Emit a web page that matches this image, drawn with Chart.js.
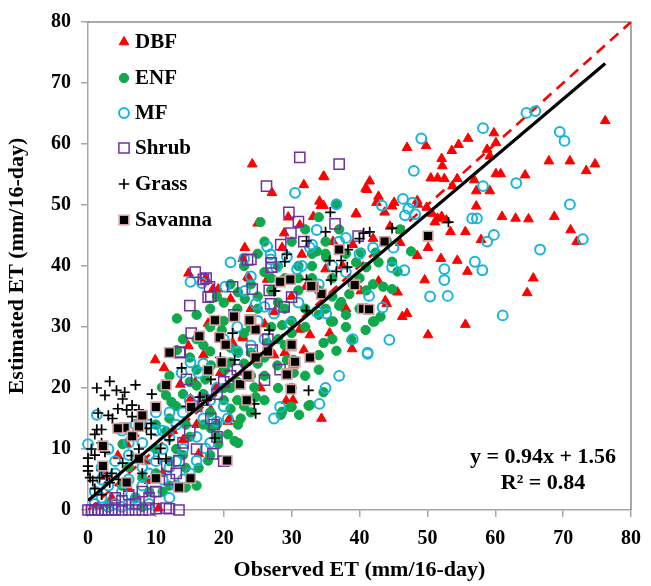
<!DOCTYPE html>
<html><head><meta charset="utf-8">
<script src="https://cdn.jsdelivr.net/npm/chart.js@4.4.1/dist/chart.umd.min.js"></script>
<style>html,body{margin:0;padding:0;background:#fff}#wrap{width:651px;height:586px;position:relative}</style>
</head><body><div id="wrap"><canvas id="c" width="651" height="586"></canvas></div>
<script>
// ---- data (observed ET, estimated ET), mm/16-day ----
const dbf = [[76.2,63.8],[47.0,59.4],[49.8,59.7],[52.1,57.6],[53.6,58.9],[54.6,59.9],[56.0,60.9],[59.8,61.8],[52.2,56.4],[58.8,59.1],[60.1,60.2],[59.2,58.0],[34.8,54.6],[41.5,53.9],[41.1,52.5],[40.9,52.7],[50.5,54.4],[51.5,54.4],[52.5,54.3],[54.4,54.3],[53.7,53.1],[56.9,54.1],[60.1,55.1],[60.8,55.1],[64.4,54.9],[67.9,57.2],[71.0,57.2],[73.4,55.6],[74.7,56.7],[57.2,52.3],[59.2,52.3],[42.8,51.4],[45.1,50.4],[44.8,49.8],[48.5,50.7],[39.5,48.5],[34.3,49.9],[48.6,50.1],[49.9,49.6],[50.7,48.6],[51.5,47.8],[52.1,48.1],[57.2,49.8],[61.0,48.1],[63.0,47.8],[64.9,47.7],[68.7,48.1],[51.1,47.2],[52.8,47.5],[53.4,45.6],[55.6,45.6],[71.1,45.9],[72.0,44.0],[57.9,44.3],[46.0,43.8],[50.1,43.0],[48.5,41.7],[52.0,41.2],[54.4,40.9],[55.9,39.1],[65.6,38.0],[64.7,35.6],[49.6,37.7],[42.8,37.5],[43.8,34.3],[43.7,48.8],[42.5,50.4],[45.6,35.7],[44.0,33.8],[46.3,31.7],[47.0,32.2],[55.6,30.4],[50.1,28.7],[34.4,15.0],[24.2,56.7],[27.1,52.0],[31.8,53.3],[34.7,54.7],[34.1,50.6],[34.7,49.9],[33.2,48.1],[31.2,46.7],[28.9,45.4],[23.1,43.0],[22.8,41.2],[14.8,38.8],[17.3,38.0],[23.7,38.0],[19.2,36.2],[31.5,41.9],[39.5,48.6],[36.1,44.0],[28.6,43.0],[18.4,36.2],[23.5,38.2],[26.4,37.8],[32.1,36.6],[40.2,35.9],[21.0,34.6],[22.8,28.2],[31.2,29.6],[35.6,29.0],[38.9,26.4],[29.0,25.8],[31.8,26.2],[9.9,24.6],[11.2,23.3],[14.8,26.9],[17.0,25.4],[17.7,30.6],[30.2,18.0],[25.4,20.0],[13.6,20.6],[7.8,15.6],[18.9,20.1],[20.9,15.0],[5.7,10.8],[9.0,4.8],[10.4,0.3],[1.5,0.7],[15.8,20.9],[18.1,16.4],[22.8,28.5],[29.2,17.9],[16.3,9.2],[15.1,18.2],[4.4,8.9],[20.6,14.5],[27.4,25.4],[32.7,28.7],[21.3,27.4],[12.5,13.0],[8.5,8.0],[6.0,3.5],[3.5,2.0],[11.0,6.0],[14.0,11.5],[24.0,33.0],[26.0,30.5],[37.5,40.0],[39.0,43.5],[35.0,39.5],[44.5,46.5],[42.0,44.5],[38.0,33.0],[30.0,35.0],[27.5,32.5],[19.5,22.5],[16.0,14.0],[2.5,5.5],[6.8,12.5],[25.0,47.0],[29.5,48.0]];
const enf = [[13.1,31.4],[10.9,20.1],[11.5,18.8],[12.3,17.7],[16.0,20.4],[17.3,21.4],[18.1,23.7],[20.2,23.0],[21.0,24.2],[19.7,29.5],[21.0,26.6],[22.1,25.8],[24.0,25.8],[26.4,27.4],[27.9,23.7],[29.3,24.6],[30.3,22.5],[28.6,16.1],[29.8,16.9],[31.1,15.6],[32.7,17.2],[34.7,19.3],[18.1,13.4],[20.6,12.4],[21.6,11.3],[22.1,11.0],[22.5,15.0],[22.1,14.0],[21.0,16.6],[14.4,6.9],[16.3,6.9],[17.7,8.1],[19.2,10.8],[14.4,14.0],[11.5,12.9],[8.0,5.3],[14.4,3.7],[5.1,10.8],[25.4,47.2],[13.1,26.2],[36.6,50.2],[47.6,42.4],[44.8,40.7],[45.6,39.1],[43.5,36.6],[44.8,36.2],[40.2,42.2],[42.4,42.2],[42.8,40.6],[39.5,40.6],[41.0,39.8],[38.5,35.4],[43.1,31.7],[42.2,30.9],[40.9,29.5],[38.8,27.9],[36.6,26.1],[34.0,25.4],[35.8,30.9],[34.7,27.4],[37.0,33.5],[36.1,30.9],[42.0,30.9],[35.1,41.4],[37.3,34.1],[28.6,30.3],[30.3,24.6],[22.1,35.7],[23.1,34.6],[32.5,17.1],[30.0,16.9],[28.4,15.6],[24.7,18.5],[24.5,20.1],[33.7,42.4],[16.0,28.0],[18.0,33.0],[20.0,31.0],[23.0,29.0],[25.0,33.0],[27.0,36.0],[29.0,38.0],[31.0,40.0],[33.0,42.0],[35.0,44.0],[37.0,46.0],[24.0,37.0],[26.0,39.0],[28.0,34.0],[30.0,31.0],[32.0,33.0],[34.0,36.0],[36.0,38.0],[38.0,42.0],[26.0,22.0],[28.0,20.0],[24.0,22.0],[20.0,18.0],[18.0,16.0],[16.0,17.0],[14.0,9.0],[12.0,8.0],[10.0,6.0],[9.0,3.0],[7.0,2.0],[6.0,7.0],[12.0,15.0],[15.0,25.0],[17.0,27.0],[19.0,35.0],[21.0,37.0],[23.0,40.0],[25.0,42.0],[27.0,30.0],[29.0,27.0],[31.0,36.0],[33.0,38.0],[35.0,33.0],[39.0,37.0],[40.0,33.0],[41.0,36.0],[44.0,44.0],[46.0,46.0],[15.0,12.0],[13.0,10.0],[17.0,19.0],[19.0,14.0],[23.0,17.0],[25.0,24.0],[22.0,21.0],[11.0,3.0],[8.0,0.5],[3.0,1.0],[5.0,4.0],[14.0,19.0],[16.0,23.0],[18.0,26.0],[20.0,20.0],[22.0,18.0],[24.0,16.0],[26.0,25.0],[28.0,28.0],[30.0,29.0],[32.0,30.0],[34.0,32.0],[36.0,35.0],[38.0,30.0],[25.0,35.0],[27.0,38.0],[29.0,33.0],[31.0,38.0],[33.0,40.0],[35.0,42.0],[22.0,33.0],[20.0,34.0],[18.0,30.0],[16.0,32.0],[14.0,28.0],[12.0,22.0],[10.0,14.0],[13.0,17.0],[15.0,21.0],[17.0,14.0],[19.0,12.0],[21.0,20.0],[23.0,24.0],[26.0,18.0],[30.0,20.0],[32.0,22.0],[34.0,23.0],[36.0,28.0],[38.0,32.0],[40.0,38.0],[42.0,37.0],[18.0,9.0],[16.0,4.0],[12.0,4.0],[10.0,10.0],[24.0,30.0],[28.0,40.0],[30.0,44.0],[26.0,44.0],[32.0,46.0],[34.0,48.0]];
const mf = [[64.6,65.1],[65.9,65.4],[58.2,62.6],[49.1,60.9],[69.5,62.0],[70.2,60.5],[48.0,55.6],[58.2,53.1],[63.1,53.6],[46.4,51.0],[47.8,50.4],[47.2,49.4],[43.3,49.9],[46.7,48.3],[48.2,48.5],[56.6,47.8],[57.3,47.8],[71.0,50.1],[59.8,45.1],[58.8,44.0],[72.9,44.4],[66.6,42.7],[57.0,40.7],[58.1,39.3],[52.5,39.5],[52.5,37.7],[50.4,35.0],[53.0,35.1],[44.8,39.8],[46.6,39.3],[41.4,35.1],[43.4,33.2],[61.1,31.9],[44.4,27.9],[41.2,25.6],[34.1,17.4],[15.1,37.4],[16.8,37.2],[30.5,52.0],[33.7,45.9],[32.7,43.0],[26.4,43.2],[26.9,41.9],[21.0,40.6],[24.0,38.3],[27.7,39.8],[29.3,41.5],[31.5,40.0],[20.2,36.6],[36.6,50.1],[38.0,44.6],[37.0,44.0],[33.0,43.5],[23.0,41.2],[26.9,41.1],[30.8,39.5],[23.1,35.9],[24.7,33.8],[26.0,33.3],[27.4,32.2],[33.7,32.5],[35.1,32.2],[41.2,25.8],[29.8,30.6],[28.3,16.9],[27.4,15.0],[0.0,10.8],[1.3,15.6],[16.3,22.5],[15.1,24.2],[13.8,22.5],[20.6,15.0],[19.0,14.5],[17.3,10.1],[16.0,8.1],[1.0,3.0],[2.0,2.0],[3.0,4.0],[4.0,1.0],[5.0,3.0],[6.0,5.0],[7.0,2.0],[8.0,4.0],[9.0,6.0],[10.0,8.0],[11.0,10.0],[12.0,12.0],[13.0,14.0],[14.0,16.0],[2.0,7.0],[4.0,6.0],[6.0,9.0],[8.0,11.0],[10.0,13.0],[12.0,7.0],[14.0,10.0],[15.0,6.0],[3.0,0.5],[5.0,0.5],[7.0,1.0],[9.0,1.0],[11.0,5.0],[13.0,4.0],[18.0,18.0],[19.0,20.0],[22.0,26.0],[24.0,27.0],[26.0,28.0],[31.0,34.0],[34.0,37.0],[36.0,40.0],[38.0,39.0],[40.0,42.0],[42.0,43.0],[45.0,43.0],[22.0,30.0],[25.0,31.0],[17.0,24.0],[20.0,28.0],[37.0,22.0],[35.0,20.0],[39.0,28.0],[12.0,16.0],[10.0,16.0],[9.0,14.0],[4.0,8.0],[6.0,11.0],[8.0,7.0],[10.0,3.0],[12.0,2.0],[14.0,5.0],[3.0,10.0],[5.0,13.0],[7.0,14.0],[9.0,9.0],[11.0,13.0],[13.0,8.0],[2.0,5.0],[1.0,1.0],[6.0,1.0],[16.0,12.0],[18.0,11.0],[15.0,18.0],[17.0,15.0],[20.0,17.0]];
const shrub = [[31.2,57.8],[26.3,53.1],[29.6,48.8],[31.0,47.3],[29.9,45.4],[31.8,44.0],[28.4,43.5],[24.0,41.1],[27.0,39.8],[15.8,39.0],[17.0,37.8],[17.7,34.9],[37.0,56.7],[36.4,46.9],[39.8,44.9],[15.0,33.5],[15.2,29.0],[13.6,25.9],[17.4,38.0],[17.9,36.6],[18.1,35.0],[14.5,21.4],[13.5,25.8],[18.1,15.0],[18.6,14.0],[11.6,7.2],[13.4,8.1],[18.4,9.2],[11.5,0.3],[13.4,0.0],[21.3,36.6],[24.2,36.2],[26.7,36.0],[26.9,33.8],[28.9,33.3],[30.0,34.9],[24.2,26.2],[26.5,28.0],[28.3,23.0],[26.0,21.3],[21.5,32.0],[23.5,41.0],[27.0,40.5],[0.0,0.0],[0.5,0.0],[1.0,0.0],[1.5,0.0],[2.0,0.0],[2.5,0.0],[3.0,0.0],[3.5,0.0],[4.0,0.0],[5.0,0.0],[6.0,0.0],[7.0,0.0],[8.0,0.0],[9.0,0.0],[10.0,0.2],[12.0,0.2],[4.0,2.0],[5.0,1.5],[6.0,2.5],[7.0,1.0],[8.0,3.0],[9.0,2.0],[10.0,3.0],[12.0,5.0],[13.0,6.0],[14.0,11.0],[15.0,13.0],[16.0,17.0],[17.0,18.0],[19.0,19.0],[20.0,21.0],[21.0,22.0],[22.0,23.0],[16.0,10.0],[19.0,12.0],[20.0,8.0]];
const grass = [[1.3,20.0],[3.2,21.1],[2.5,18.8],[4.2,19.6],[5.4,19.3],[5.1,18.2],[1.5,15.9],[4.4,16.6],[5.7,16.4],[6.5,17.2],[7.5,16.4],[3.6,15.0],[6.5,15.3],[1.3,13.2],[2.0,13.2],[1.0,12.4],[9.4,19.0],[9.3,14.2],[8.6,13.4],[9.3,12.4],[10.7,10.1],[11.5,8.4],[10.4,8.4],[0.0,8.5],[0.0,7.2],[0.0,6.4],[0.3,5.3],[0.7,4.8],[1.7,5.3],[2.8,5.6],[3.2,4.5],[5.1,7.7],[6.4,8.9],[7.5,10.0],[13.8,23.3],[18.1,21.4],[16.5,18.5],[17.5,18.0],[18.7,11.8],[21.3,29.0],[21.6,24.6],[24.7,15.8],[24.5,17.4],[26.7,29.5],[27.6,35.9],[32.5,19.6],[32.2,32.7],[35.7,48.8],[35.0,45.6],[40.6,45.4],[41.5,45.6],[44.8,46.2],[53.1,47.2],[38.3,42.7],[37.3,40.9],[35.6,40.9],[36.6,39.1],[38.2,39.8],[35.8,37.7],[32.2,44.1],[40.0,44.5],[29.3,41.9],[29.0,40.7],[32.2,37.8],[27.4,35.9],[1.0,9.0],[2.0,6.5],[3.5,6.0],[4.5,5.0],[1.0,3.5],[2.0,2.5],[0.5,10.0],[2.5,9.5],[8.0,6.0],[12.0,11.5],[7.0,20.5],[2.0,11.0],[3.0,15.5],[19.5,25.0],[14.5,17.0]];
const savanna = [[12.0,25.8],[16.4,28.5],[18.7,31.1],[21.6,31.7],[24.0,31.2],[24.7,29.6],[19.4,28.3],[20.3,27.1],[19.7,24.2],[17.7,22.9],[23.7,21.9],[22.4,20.6],[23.4,18.0],[24.7,25.0],[29.9,26.9],[30.3,24.0],[29.3,22.4],[29.9,19.8],[32.7,25.0],[34.4,35.4],[33.2,36.6],[15.2,16.9],[10.0,16.9],[5.4,13.5],[7.5,13.7],[6.5,12.1],[4.4,13.4],[2.2,10.5],[2.2,7.2],[7.5,8.4],[5.7,4.5],[10.0,5.2],[15.1,5.2],[13.4,3.7],[20.5,8.1],[28.3,37.4],[29.8,37.8],[32.9,36.7],[50.1,44.9],[43.7,44.0],[37.0,42.7],[39.3,36.9],[40.5,33.0],[41.4,32.9],[21.5,31.7],[23.8,31.1],[30.0,27.1],[30.5,24.3],[23.5,22.1],[29.3,22.2],[8.0,15.5],[11.5,20.5],[26.5,26.0]];
const fitLine = [[0,1.56],[76.2,73.2]];      // y = 0.94x + 1.56
const oneToOne = [[0,0],[80,80]];
const axisTicks = [0,10,20,30,40,50,60,70,80];
const seriesNames = ['DBF','ENF','MF','Shrub','Grass','Savanna'];
const eqLines = ['y = 0.94x + 1.56','R\u00b2 = 0.84'];
const xTitle = 'Observed ET (mm/16-day)';
const yTitle = 'Estimated ET (mm/16-day)';

const FONT = '"Liberation Serif", "Times New Roman", serif';
const toXY = a => a.map(p => ({x:p[0], y:p[1]}));

const styles = {
  DBF:    {pointStyle:'triangle', radius:5.6, bg:'#ff0000', border:'#ff0000', bw:1},
  ENF:    {pointStyle:'circle',   radius:4.7, bg:'#10a84c', border:'#10a84c', bw:1},
  MF:     {pointStyle:'circle',   radius:4.9, bg:'rgba(0,0,0,0)', border:'#14b4dc', bw:2},
  Shrub:  {pointStyle:'rect',     radius:7.2, bg:'rgba(0,0,0,0)', border:'#7030a0', bw:1.5},
  Grass:  {pointStyle:'cross',    radius:5.2, bg:'#000', border:'#000', bw:1.7},
  Savanna:{pointStyle:'rect',     radius:6.8, bg:'#000', border:'#d4a0a0', bw:1.6}
};
const seriesData = {DBF:dbf, ENF:enf, MF:mf, Shrub:shrub, Grass:grass, Savanna:savanna};
const drawOrder = {Savanna:1, Grass:2, Shrub:3, MF:4, ENF:5, DBF:6};

const datasets = seriesNames.map(n => ({
  type:'scatter', label:n, data: toXY(seriesData[n]),
  pointStyle: styles[n].pointStyle, pointRadius: styles[n].radius,
  backgroundColor: styles[n].bg, borderColor: styles[n].border,
  pointBorderWidth: styles[n].bw, borderWidth: styles[n].bw,
  order: drawOrder[n], clip: false
}));
datasets.push({type:'line', label:'fit', data: toXY(fitLine), borderColor:'#000', borderWidth:3.2,
  pointRadius:0, order:0, fill:false});
datasets.push({type:'line', label:'1:1', data: toXY(oneToOne), borderColor:'#ff0000', borderWidth:2.6,
  borderDash:[11,7], pointRadius:0, order:7, fill:false});

const frame = {
  id:'frame',
  beforeDatasetsDraw(chart){
    const a = chart.chartArea, ctx = chart.ctx;
    ctx.save(); ctx.strokeStyle = '#8c8c8c'; ctx.lineWidth = 1.5;
    ctx.beginPath(); ctx.moveTo(a.left, a.top); ctx.lineTo(a.right, a.top); ctx.lineTo(a.right, a.bottom); ctx.stroke();
    ctx.restore();
  }
};

function drawMarker(ctx, s, x, y){
  ctx.save();
  ctx.fillStyle = s.bg; ctx.strokeStyle = s.border; ctx.lineWidth = s.bw;
  const r = s.radius;
  ctx.beginPath();
  if (s.pointStyle === 'triangle'){
    ctx.moveTo(x, y - r); ctx.lineTo(x + r*0.866, y + r*0.5); ctx.lineTo(x - r*0.866, y + r*0.5); ctx.closePath();
    ctx.fill(); ctx.stroke();
  } else if (s.pointStyle === 'circle'){
    ctx.arc(x, y, r, 0, Math.PI*2); ctx.fill(); ctx.stroke();
  } else if (s.pointStyle === 'rect'){
    const h = r*Math.SQRT1_2; ctx.rect(x-h, y-h, 2*h, 2*h); ctx.fill(); ctx.stroke();
  } else if (s.pointStyle === 'cross'){
    ctx.moveTo(x - r, y); ctx.lineTo(x + r, y); ctx.moveTo(x, y - r); ctx.lineTo(x, y + r); ctx.stroke();
  }
  ctx.restore();
}

const overlay = {
  id:'overlay',
  afterDraw(chart){
    const ctx = chart.ctx;
    ctx.save();
    ctx.font = 'bold 21px ' + FONT; ctx.textBaseline = 'middle'; ctx.textAlign = 'left'; ctx.fillStyle = '#000';
    const ys = [42,78,113,148,184,220];
    seriesNames.forEach((n,i) => {
      drawMarker(ctx, styles[n], 124, ys[i]);
      ctx.fillStyle = '#000';
      ctx.fillText(n, 135, ys[i] + 1);
    });
    ctx.font = 'bold 22px ' + FONT; ctx.textAlign = 'center';
    ctx.fillText(eqLines[0], 543, 457);
    ctx.fillText(eqLines[1], 543, 483);
    ctx.restore();
  }
};

const axisCommon = (title, isX) => ({
  type:'linear', min:0, max:80,
  afterBuildTicks(scale){ scale.ticks = axisTicks.map(v => ({value:v})); },
  afterFit(scale){ if (isX) scale.height = 76; else scale.width = 88; },
  grid:{display:true, drawOnChartArea:false, drawTicks:true, tickLength:7, color:'#a6a6a6', lineWidth:1.5},
  border:{display:true, color:'#a6a6a6', width:1.5},
  ticks:{font:{family:FONT, size:20, weight:'bold'}, color:'#000', padding:10},
  title:{display:true, text:title, font:{family:FONT, size:22, weight:'bold'}, color:'#000',
    padding: isX ? {top:0, bottom:2} : {top:4, bottom:0}}
});

new Chart(document.getElementById('c'), {
  type:'scatter',
  data:{datasets},
  options:{
    responsive:false, animation:false, devicePixelRatio:1,
    layout:{padding:{top:13, right:12, left:0, bottom:0}},
    plugins:{legend:{display:false}, tooltip:{enabled:false}},
    scales:{ x: axisCommon(xTitle, true), y: axisCommon(yTitle, false) }
  },
  plugins:[frame, overlay]
});
</script></body></html>
